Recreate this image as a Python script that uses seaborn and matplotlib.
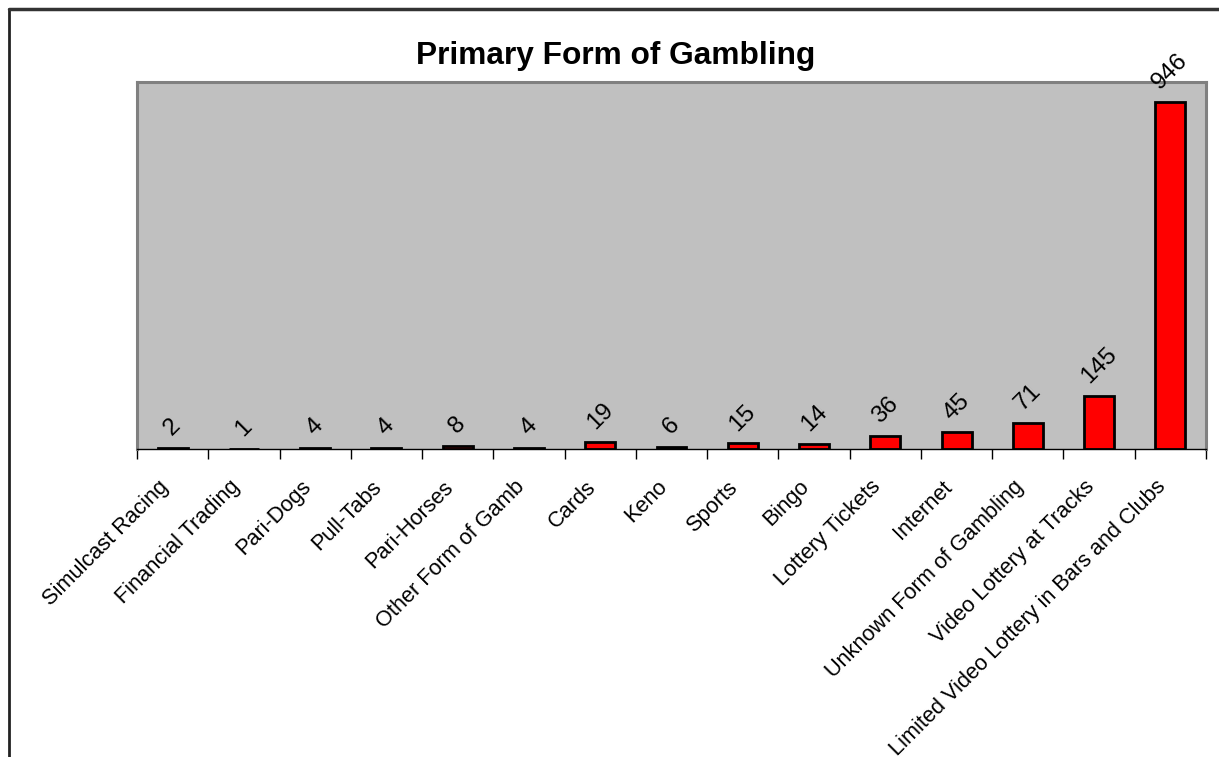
import matplotlib
matplotlib.use("Agg")
import matplotlib.pyplot as plt
from matplotlib.lines import Line2D
import matplotlib.transforms as mtransforms
import seaborn as sns
import pandas as pd

categories = ["Simulcast Racing", "Financial Trading", "Pari-Dogs", "Pull-Tabs",
              "Pari-Horses", "Other Form of Gamb", "Cards", "Keno", "Sports",
              "Bingo", "Lottery Tickets", "Internet", "Unknown Form of Gambling",
              "Video Lottery at Tracks", "Limited Video Lottery in Bars and Clubs"]
values = [2, 1, 4, 4, 8, 4, 19, 6, 15, 14, 36, 45, 71, 145, 946]
title = "Primary Form of Gambling"

sns.set_style("white")
plt.rcParams['font.family'] = ['Liberation Sans', 'DejaVu Sans']
plt.rcParams['text.color'] = 'black'
plt.rcParams['xtick.color'] = 'black'
plt.rcParams['xtick.labelcolor'] = 'black'
plt.rcParams['axes.labelcolor'] = 'black'

df = pd.DataFrame({"cat": categories, "val": values})

fig = plt.figure(figsize=(12.19, 7.57), dpi=100)
ax = fig.add_axes([0.1124, 0.4069, 0.9893 - 0.1124, 0.8917 - 0.4069])
ax.set_facecolor("#C0C0C0")

sns.barplot(data=df, x="cat", y="val", order=categories, color="#FF0000",
            saturation=1, edgecolor="black", linewidth=2, width=0.42, ax=ax)

ax.set_ylim(0, 1000)
ax.set_xlim(-0.5, len(categories) - 0.5)
ax.set_yticks([])
ax.set_xlabel("")
ax.set_ylabel("")

for s in ["top", "left", "right"]:
    ax.spines[s].set_visible(True)
    ax.spines[s].set_color("#808080")
    ax.spines[s].set_linewidth(2.2)
ax.spines["bottom"].set_color("black")
ax.spines["bottom"].set_linewidth(1)

ax.set_xticks(range(len(categories)))
ax.set_xticklabels(categories, rotation=45, ha="right", va="top",
                   rotation_mode="anchor", fontsize=15.7, color="black")
ax.tick_params(axis="x", which="major", length=0, pad=14)
ax.set_xticks([i - 0.5 for i in range(len(categories) + 1)], minor=True)
ax.tick_params(axis="x", which="minor", length=7, width=1, color="black",
               direction="out", bottom=True)

offset = mtransforms.ScaledTranslation(-15 / 100, -8 / 100, fig.dpi_scale_trans)
for lbl in ax.get_xticklabels():
    lbl.set_transform(lbl.get_transform() + offset)

for i, v in enumerate(values):
    ax.annotate(str(v), xy=(i, v), xytext=(0, 6), textcoords="offset points",
                ha="center", va="bottom", rotation=45, fontsize=17.5,
                color="black")

fig.text(0.505, 0.915, title, ha="center", va="baseline", fontsize=22.8,
         fontweight="bold", color="black")

fig.add_artist(Line2D([9 / 1219, 9 / 1219], [0, 1 - 9 / 757], color="#222222",
                      linewidth=2, transform=fig.transFigure))
fig.add_artist(Line2D([9 / 1219, 1], [1 - 9 / 757, 1 - 9 / 757], color="#333333",
                      linewidth=2.5, transform=fig.transFigure))

fig.savefig("out.png", dpi=100, facecolor="white")
